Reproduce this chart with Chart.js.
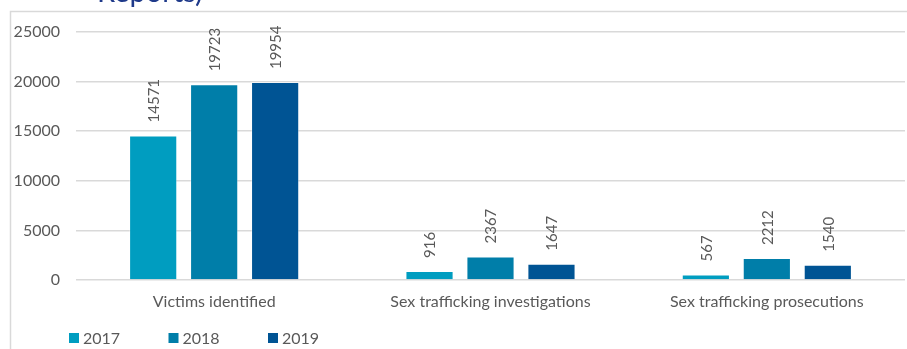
<!DOCTYPE html>
<html>
<head>
<meta charset="utf-8">
<script src="https://cdn.jsdelivr.net/npm/chart.js@4/dist/chart.umd.min.js"></script>
<style>
  html, body { margin: 0; padding: 0; background: #fff; }
  #wrap { width: 907px; height: 349px; position: relative; }
</style>
</head>
<body>
<div id="wrap"><canvas id="barChart" width="907" height="349"></canvas></div>
<script>
const categories = ['Victims identified', 'Sex trafficking investigations', 'Sex trafficking prosecutions'];
const years = ['2017', '2018', '2019'];
const values2017 = [14571, 916, 567];
const values2018 = [19723, 2367, 2212];
const values2019 = [19954, 1647, 1540];
const yTicks = [0, 5000, 10000, 15000, 20000, 25000];
const titleText = 'Reports)';

const colors = ['#009DC0', '#007EA9', '#005494'];
const textColor = '#595959';

// frame, cut-off title, bar value labels and legend
const extras = {
    id: 'extras',
    beforeDraw(chart) {
        const ctx = chart.ctx;
        ctx.save();
        ctx.strokeStyle = '#d9d9d9';
        ctx.lineWidth = 1.5;
        ctx.strokeRect(10.5, 11.5, 1000, 1000);
        ctx.fillStyle = '#1F3A8A';
        ctx.font = '29px Lato';
        ctx.textBaseline = 'alphabetic';
        ctx.fillText(titleText, 97, 2);
        ctx.restore();
    },
    afterDatasetsDraw(chart) {
        const ctx = chart.ctx;
        ctx.save();
        ctx.fillStyle = textColor;
        ctx.font = '15px Lato';
        ctx.textAlign = 'left';
        ctx.textBaseline = 'middle';
        chart.data.datasets.forEach((ds, i) => {
            chart.getDatasetMeta(i).data.forEach((bar, j) => {
                ctx.save();
                ctx.translate(bar.x, bar.y - 13);
                ctx.rotate(-Math.PI / 2);
                ctx.fillText(String(ds.data[j]), 0, 1);
                ctx.restore();
            });
        });
        // legend
        ctx.font = '16px Lato';
        chart.data.datasets.forEach((ds, i) => {
            const x = 69 + i * 99.5;
            ctx.fillStyle = ds.backgroundColor;
            ctx.fillRect(x, 333, 10, 10);
            ctx.fillStyle = textColor;
            ctx.fillText(ds.label, x + 14, 339);
        });
        ctx.restore();
    }
};

new Chart(document.getElementById('barChart').getContext('2d'), {
    type: 'bar',
    data: {
        labels: categories,
        datasets: [values2017, values2018, values2019].map((d, i) => ({
            label: years[i],
            data: d,
            backgroundColor: colors[i],
            borderColor: 'rgba(255,255,255,0.35)',
            borderWidth: 1,
            categoryPercentage: 0.662,
            barPercentage: 0.79
        }))
    },
    options: {
        responsive: false,
        animation: false,
        layout: { padding: { left: 10, top: 32, right: 2, bottom: 38 } },
        plugins: {
            legend: { display: false },
            tooltip: { enabled: false }
        },
        scales: {
            x: {
                grid: { display: false, drawTicks: false },
                border: { display: false },
                ticks: { color: textColor, font: { family: 'Lato', size: 16 }, padding: 12, maxRotation: 0 },
                afterFit(scale) { scale.height = 31; }
            },
            y: {
                min: 0,
                max: 25000,
                afterBuildTicks(scale) { scale.ticks = yTicks.map(v => ({ value: v })); },
                grid: { color: '#d9d9d9', lineWidth: 1.5, drawTicks: false },
                border: { display: false },
                ticks: {
                    color: textColor,
                    font: { family: 'Lato', size: 16 },
                    padding: 16,
                    callback: v => String(v)
                },
                afterFit(scale) { scale.width = 66; }
            }
        }
    },
    plugins: [extras]
});
</script>
</body>
</html>
